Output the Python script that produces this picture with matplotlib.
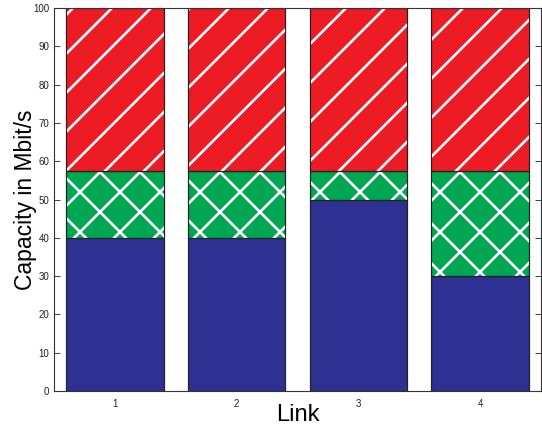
import numpy as np
import matplotlib.pyplot as plt

plt.rcParams['font.family'] = ['Liberation Sans', 'DejaVu Sans']

links = [1, 2, 3, 4]
base = [40, 40, 50, 30]          # blue part
middle = [17.5, 17.5, 7.5, 27.5]  # green part
top = [42.5, 42.5, 42.5, 42.5]    # red part

blue = '#2e3192'
green = '#00a651'
red = '#ed1c24'


def hatch_lines(ax, patch, spacing, directions, lw=1.9):
    # white diagonal lines clipped to one bar, laid out in pixel space
    x0, y0 = patch.get_x(), patch.get_y()
    x1, y1 = x0 + patch.get_width(), y0 + patch.get_height()
    (px0, py0), (px1, py1) = ax.transData.transform([(x0, y0), (x1, y1)])
    inv = ax.transData.inverted()
    for d in directions:
        cs = [px0 - d * py0, px0 - d * py1, px1 - d * py0, px1 - d * py1]
        start = np.floor(min(cs) / spacing) * spacing
        for c in np.arange(start, max(cs) + spacing, spacing):
            ys = np.array([py0 - 5, py1 + 5])
            xs = c + d * ys
            pts = inv.transform(np.column_stack([xs, ys]))
            ln, = ax.plot(pts[:, 0], pts[:, 1], color='white', lw=lw,
                          solid_capstyle='butt', zorder=patch.get_zorder() + 0.1)
            ln.set_clip_path(patch)


fig = plt.figure(figsize=(5.42, 4.32), dpi=100)
ax = fig.add_axes([54 / 542, 41 / 432, 487 / 542, 383 / 432])
ax.set_xlim(0.5, 4.5)
ax.set_ylim(0, 100)

b1 = ax.bar(links, base, width=0.8, color=blue, edgecolor='#222222', lw=0.8, zorder=2)
b2 = ax.bar(links, middle, width=0.8, bottom=base, color=green,
            edgecolor='#222222', lw=0.8, zorder=2)
b3 = ax.bar(links, top, width=0.8, bottom=np.add(base, middle), color=red,
            edgecolor='#222222', lw=0.8, zorder=2)

for p in b2:
    hatch_lines(ax, p, 40, [1, -1])
for p in b3:
    hatch_lines(ax, p, 39, [1])

# redraw the bar outlines above the hatch lines
for bars in (b1, b2, b3):
    for p in bars:
        ax.add_patch(plt.Rectangle((p.get_x(), p.get_y()), p.get_width(), p.get_height(),
                                   fill=False, edgecolor='#222222', lw=0.8, zorder=3))

ax.set_xticks(links)
ax.set_yticks(np.arange(0, 101, 10))
ax.tick_params(direction='in', length=4, width=0.6, labelsize=7, colors='#222222',
               top=True, right=True)
ax.tick_params(axis='x', pad=6)
for s in ax.spines.values():
    s.set_color('#333333')
    s.set_linewidth(0.8)
    s.set_zorder(4)

ax.set_xlabel('Link', fontsize=17, labelpad=-4)
ax.set_ylabel('Capacity in Mbit/s', fontsize=16.5, labelpad=-3)

fig.savefig('out.png', dpi=100)
